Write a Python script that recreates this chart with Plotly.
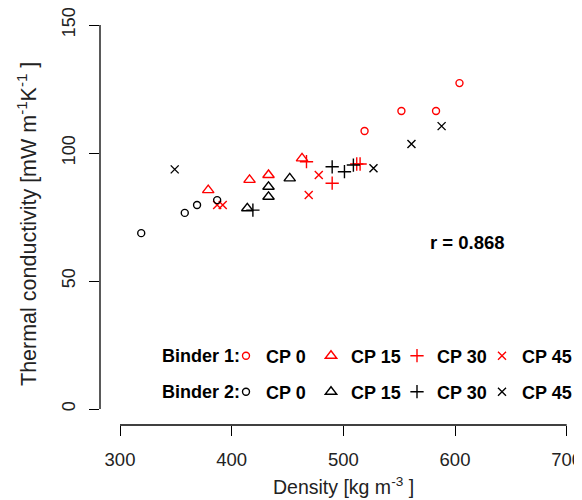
import plotly.graph_objects as go

# ---- data ----
b1_cp0_x = [519, 552, 583, 604]
b1_cp0_y = [108.6, 116.4, 116.4, 127.3]
b2_cp0_x = [319, 358, 369, 387]
b2_cp0_y = [68.7, 76.6, 79.7, 81.6]

b1_cp15_x = [379, 416, 433, 463]
b1_cp15_y = [85.5, 89.5, 91.4, 97.9]
b2_cp15_x = [414, 433, 433, 452]
b2_cp15_y = [78.4, 86.8, 82.9, 90.1]

b1_cp30_x = [467, 490, 512, 515]
b1_cp30_y = [96.6, 88.2, 95.7, 95.7]
b2_cp30_x = [419, 490, 501, 509]
b2_cp30_y = [77.7, 94.6, 92.7, 95.3]

b1_cp45_x = [387, 392, 469, 478]
b1_cp45_y = [79.7, 79.7, 83.6, 91.4]
b2_cp45_x = [349, 527, 561, 588]
b2_cp45_y = [93.6, 94.0, 103.5, 110.5]

series_names = ["CP 0", "CP 15", "CP 30", "CP 45"]
x_ticks = [300, 400, 500, 600, 700]
y_ticks = [0, 50, 100, 150]
r_text = "r = 0.868"

FONT = "Liberation Sans, Arial, sans-serif"
RED = "#ff0000"
BLACK = "#000000"

symbols = ["circle-open", "triangle-up-open", "cross-thin-open", "x-thin-open"]
sizes = [7, 10, 9.5, 8]

# The page body has an 8px margin; lay the figure out in reference-pixel terms minus that offset.
OFF = 8
W, H = 582 - OFF, 500 - OFF
LEFT, RIGHT, TOP, BOTTOM = 100, 582, 15, 425   # plot area in reference pixels
ml, mt = LEFT - OFF, TOP - OFF
mr = W - (RIGHT - OFF)
mb = H - (BOTTOM - OFF)
pw = RIGHT - LEFT
ph = BOTTOM - TOP
# reference pixel -> data mapping: x 300 at px 120, 111.67 px / 100 ; y 0 at px 409, 2.56 px / unit
x0 = 300 + (LEFT - 120) / 1.1167
x1 = 300 + (RIGHT - 120) / 1.1167
y0 = (409 - BOTTOM) / 2.56
y1 = (409 - TOP) / 2.56

def py(p):  # reference pixel y -> paper
    return (BOTTOM - p) / ph

def px(p):  # reference pixel x -> paper
    return (p - LEFT) / pw

fig = go.Figure()

binder1 = [(b1_cp0_x, b1_cp0_y), (b1_cp15_x, b1_cp15_y), (b1_cp30_x, b1_cp30_y), (b1_cp45_x, b1_cp45_y)]
binder2 = [(b2_cp0_x, b2_cp0_y), (b2_cp15_x, b2_cp15_y), (b2_cp30_x, b2_cp30_y), (b2_cp45_x, b2_cp45_y)]

# one small legend per entry so the two legend rows line up in columns
legend_cols = [226, 311, 397, 482]   # left edge of each legend column (reference px)
legend_rows = [356, 392]             # vertical centre of each legend row (reference px)

legend_common = dict(orientation="h", xanchor="left", yanchor="middle", bgcolor="rgba(0,0,0,0)",
                     font=dict(family=FONT, size=18, color="#000", weight="bold"),
                     itemwidth=30, itemclick=False, itemdoubleclick=False)

legend_layout = {}
k = 0
for row, (group, color) in enumerate([(binder1, RED), (binder2, BLACK)]):
    for col, ((xs, ys), name, sym, sz) in enumerate(zip(group, series_names, symbols, sizes)):
        k += 1
        lname = "legend" if k == 1 else f"legend{k}"
        fig.add_trace(go.Scatter(x=xs, y=ys, mode="markers", name=name, legend=lname,
                                 marker=dict(symbol=sym, size=sz, color=color,
                                             line=dict(color=color, width=1.4))))
        legend_layout[lname] = dict(x=px(legend_cols[col]), y=py(legend_rows[row]), **legend_common)

fig.update_layout(
    width=W, height=H,
    margin=dict(l=ml, r=mr, t=mt, b=mb, autoexpand=False),
    paper_bgcolor="white", plot_bgcolor="white",
    font=dict(family=FONT, size=18, color="#222"),
    showlegend=True,
    xaxis=dict(range=[x0, x1], tickvals=x_ticks, showgrid=False, zeroline=False, showline=False,
               automargin=False, ticklabeloverflow="allow",
               ticks="outside", ticklen=10, tickwidth=1.3, tickcolor="#000",
               tickfont=dict(family=FONT, size=18.5, color="#222"), ticklabelstandoff=8),
    yaxis=dict(range=[y0, y1], tickvals=y_ticks, showgrid=False, zeroline=False, showline=False,
               automargin=False, ticklabeloverflow="allow",
               ticks="outside", ticklen=10, tickwidth=1.3, tickcolor="#000", tickangle=-90,
               tickfont=dict(family=FONT, size=18, color="#222"), ticklabelstandoff=7),
    shapes=[
        dict(type="line", xref="x", yref="paper", x0=x_ticks[0], x1=x_ticks[-1], y0=0, y1=0,
             line=dict(color="#000", width=1.3)),
        dict(type="line", xref="paper", yref="y", x0=0, x1=0, y0=y_ticks[0], y1=y_ticks[-1],
             line=dict(color="#000", width=1.3)),
    ],
    annotations=[
        dict(text="<b>" + r_text + "</b>", xref="x", yref="y", x=611, y=65, showarrow=False,
             font=dict(family=FONT, size=18.5, color="#000")),
        dict(text="<b>Binder 1:</b>", xref="paper", yref="paper", x=px(242), y=py(356), xanchor="right",
             yanchor="middle", showarrow=False, font=dict(family=FONT, size=18, color="#000")),
        dict(text="<b>Binder 2:</b>", xref="paper", yref="paper", x=px(242), y=py(392), xanchor="right",
             yanchor="middle", showarrow=False, font=dict(family=FONT, size=18, color="#000")),
        dict(text="Density [kg m<sup>-3</sup>&nbsp;]", xref="x", yref="paper", x=500, y=py(486),
             xanchor="center", yanchor="middle", showarrow=False,
             font=dict(family=FONT, size=19.5, color="#222")),
        dict(text="Thermal conductivity [mW m<sup>-1</sup>K<sup>-1</sup>&nbsp;]", xref="paper", yref="paper",
             x=px(27), y=py(224), textangle=-90, xanchor="center", yanchor="middle", showarrow=False,
             font=dict(family=FONT, size=21.5, color="#222")),
    ],
)
fig.update_layout(**legend_layout)

fig.write_html("out.html")
